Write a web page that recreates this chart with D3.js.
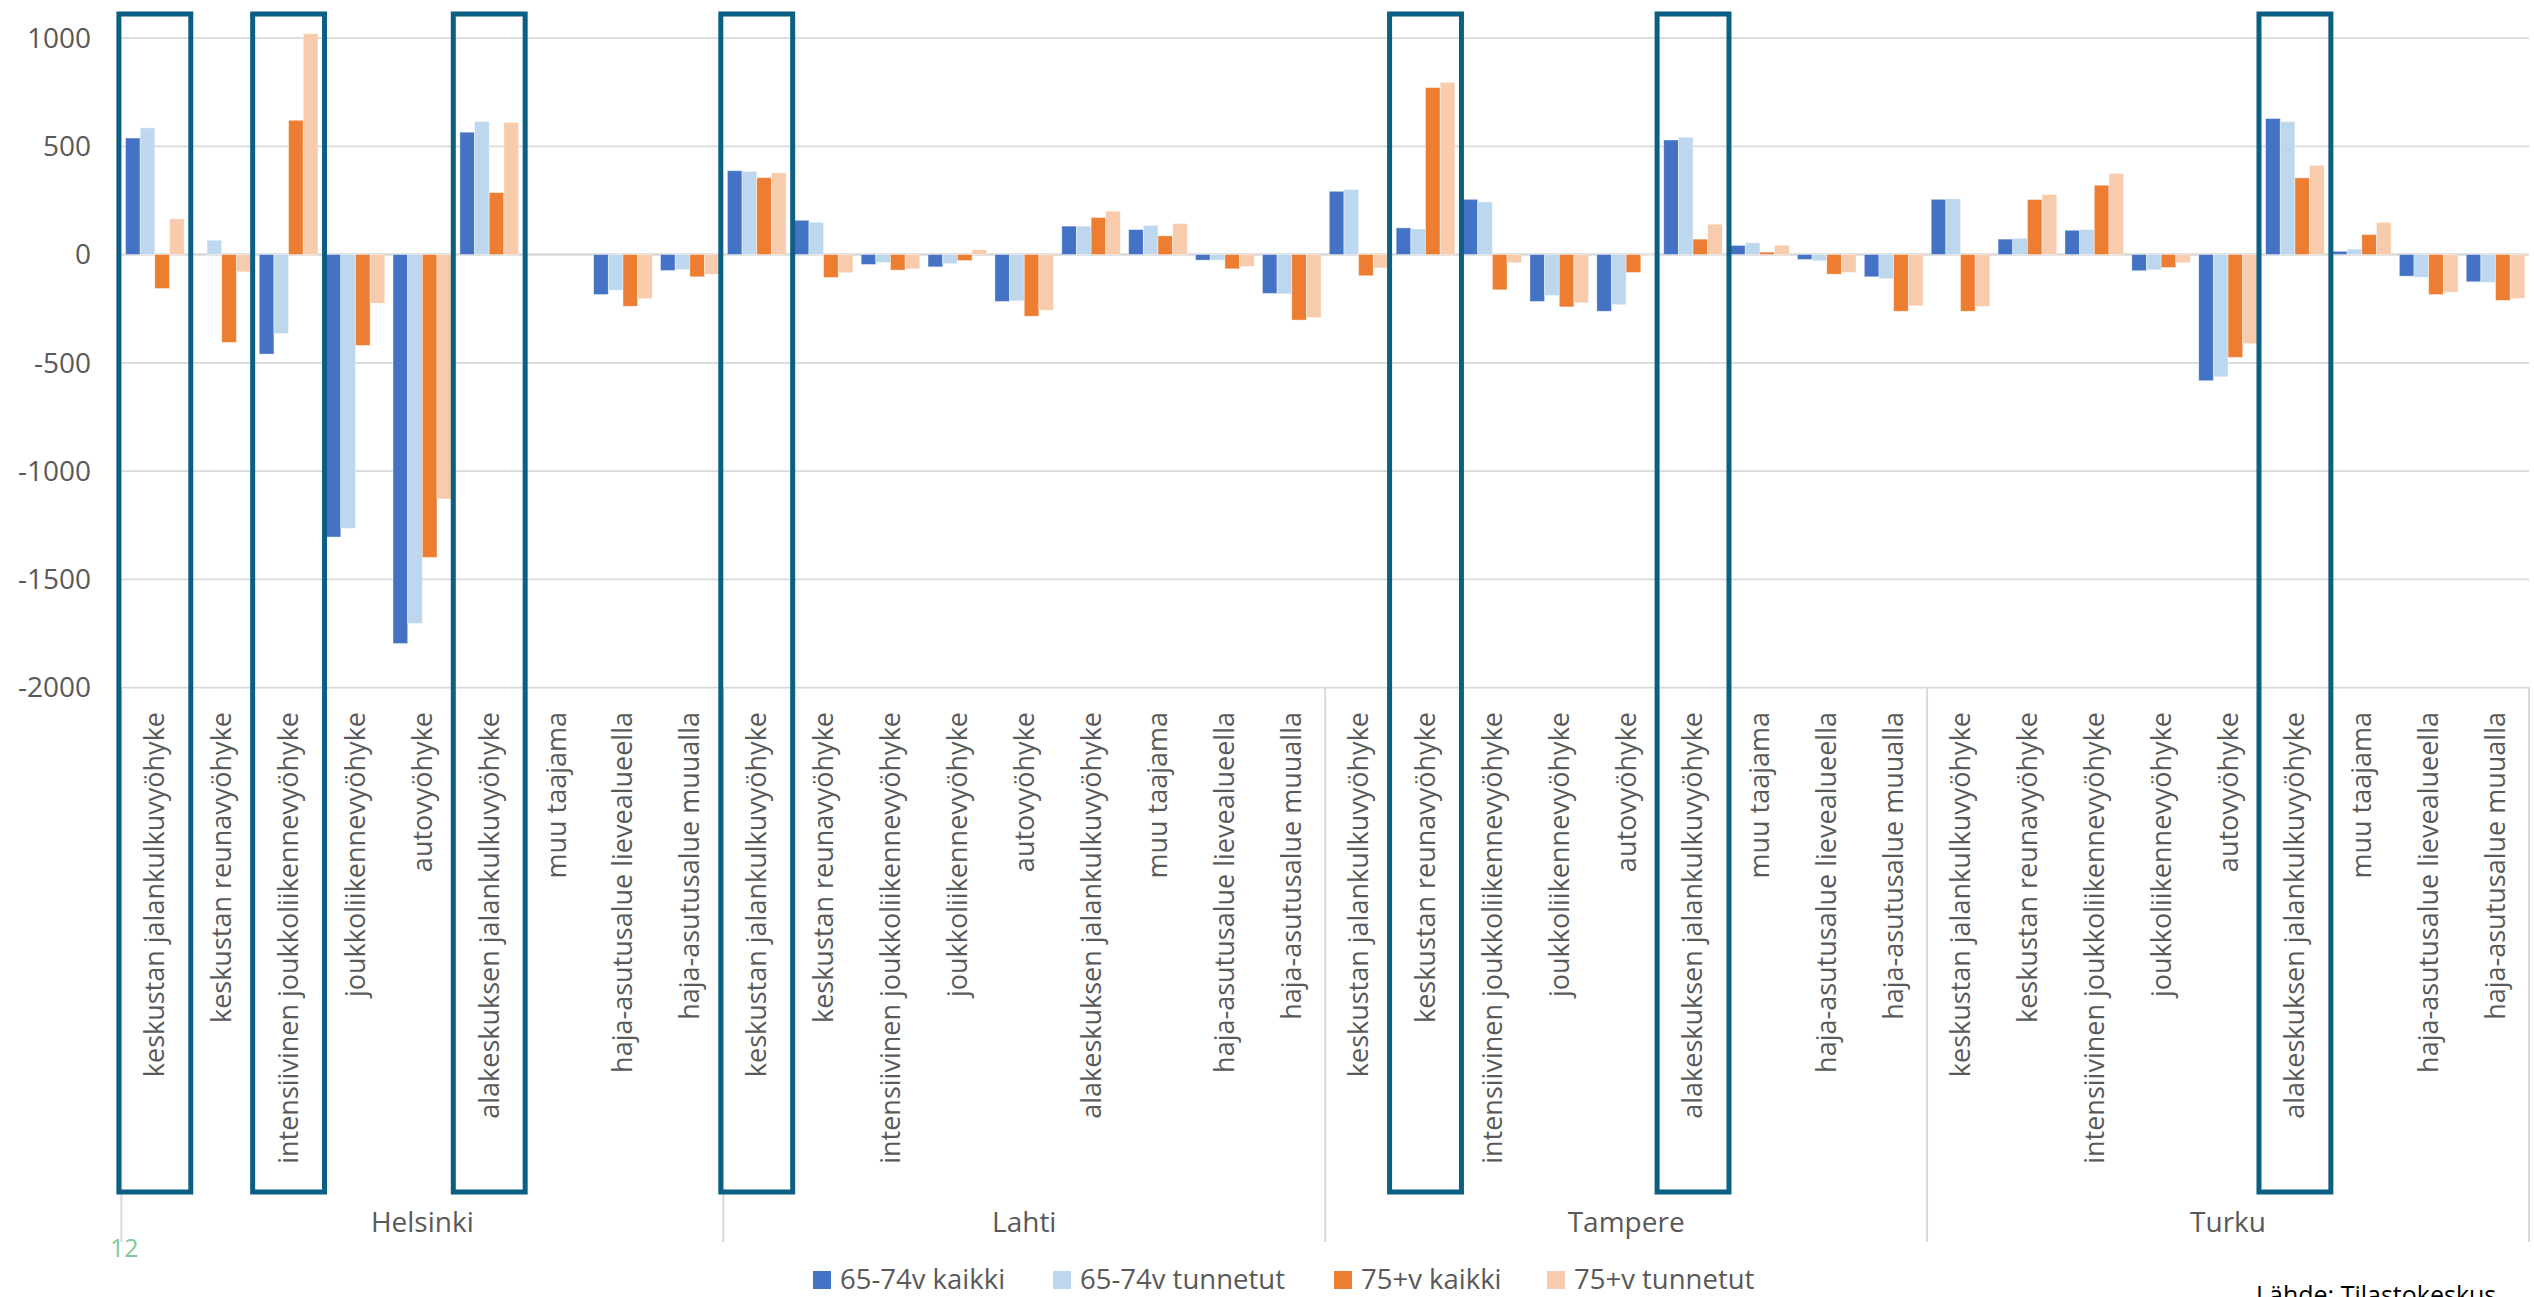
<!DOCTYPE html>
<html>
<head>
<meta charset="utf-8">
<script src="https://cdn.jsdelivr.net/npm/d3@7"></script>
<style>
  body { margin: 0; overflow: hidden; background: #fff; }
  svg { display: block; font-family: "Segoe UI", "Open Sans", sans-serif; }
</style>
</head>
<body>
<svg id="chart"></svg>
<script>
// cities and zone types (x axis is city > zone)
const cities = ['Helsinki', 'Lahti', 'Tampere', 'Turku'];
const zones = [
  'keskustan jalankulkuvyöhyke',
  'keskustan reunavyöhyke',
  'intensiivinen joukkoliikennevyöhyke',
  'joukkoliikennevyöhyke',
  'autovyöhyke',
  'alakeskuksen jalankulkuvyöhyke',
  'muu taajama',
  'haja-asutusalue lievealueella',
  'haja-asutusalue muualla'
];
const seriesNames = ['65-74v kaikki', '65-74v tunnetut', '75+v kaikki', '75+v tunnetut'];
const seriesColors = ['#4472c4', '#bdd7ee', '#ed7d31', '#f8cbad'];

// values, 9 zones per city in order Helsinki, Lahti, Tampere, Turku
const kaikki6574 = [
  538, 0, -460, -1305, -1797, 565, 0, -185, -74,
  387, 158, -46, -57, -217, 131, 115, -26, -180,
  292, 123, 255, -217, -262, 529, 42, -23, -103,
  255, 71, 112, -75, -583, 628, 15, -100, -126
];
const tunnetut6574 = [
  585, 66, -365, -1265, -1704, 614, 0, -165, -70,
  384, 149, -37, -42, -214, 131, 134, -26, -182,
  300, 118, 243, -189, -232, 542, 54, -29, -112,
  257, 75, 115, -71, -565, 614, 25, -105, -129
];
const kaikki75 = [
  -157, -406, 620, -420, -1399, 286, 0, -239, -103,
  355, -106, -72, -28, -285, 171, 86, -66, -303,
  -98, 771, -163, -242, -83, 71, 11, -91, -262,
  -262, 254, 320, -60, -475, 354, 92, -185, -212
];
const tunnetut75 = [
  165, -80, 1020, -225, -1129, 610, 0, -204, -91,
  377, -84, -66, 22, -258, 200, 143, -55, -291,
  -62, 795, -38, -223, -5, 140, 43, -83, -237,
  -240, 277, 374, -38, -412, 412, 148, -174, -203
];
const yTicks = [1000, 500, 0, -500, -1000, -1500, -2000];

// zones framed with a box
const highlights = [
  ['Helsinki', 'keskustan jalankulkuvyöhyke'],
  ['Helsinki', 'intensiivinen joukkoliikennevyöhyke'],
  ['Helsinki', 'alakeskuksen jalankulkuvyöhyke'],
  ['Lahti', 'keskustan jalankulkuvyöhyke'],
  ['Tampere', 'keskustan reunavyöhyke'],
  ['Tampere', 'alakeskuksen jalankulkuvyöhyke'],
  ['Turku', 'alakeskuksen jalankulkuvyöhyke']
];

const width = 2534, height = 1297;
const plotLeft = 121.4, plotRight = 2529, plotTop = 38, plotBottom = 687.5;
const textColor = '#595959', gridColor = '#d9d9d9';
const legendX = [813, 1053, 1334, 1547];

const svg = d3.select('#chart').attr('width', width).attr('height', height);

const xCity = d3.scaleBand().domain(cities).range([plotLeft, plotRight]);
const xZone = d3.scaleBand().domain(zones).range([0, xCity.bandwidth()]);
const xSeries = d3.scaleBand().domain(seriesNames).range([0, xZone.bandwidth()])
  .paddingInner(0).paddingOuter(0.28);
const y = d3.scaleLinear().domain([-2000, 1000]).range([plotBottom, plotTop]);

const allSeries = [kaikki6574, tunnetut6574, kaikki75, tunnetut75];
const rows = [];
cities.forEach((c, ci) => zones.forEach((z, zi) => {
  seriesNames.forEach((s, si) => {
    rows.push({ city: c, zone: z, series: s, value: allSeries[si][ci * zones.length + zi] });
  });
}));

// gridlines
svg.append('g')
  .selectAll('line')
  .data(yTicks)
  .join('line')
  .attr('x1', plotLeft).attr('x2', plotRight)
  .attr('y1', d => y(d)).attr('y2', d => y(d))
  .attr('stroke', gridColor)
  .attr('stroke-width', d => (d === 0 ? 2.5 : 1.75));

// y labels
svg.append('g')
  .selectAll('text')
  .data(yTicks)
  .join('text')
  .attr('x', 91)
  .attr('y', d => y(d))
  .attr('dy', '0.35em')
  .attr('text-anchor', 'end')
  .attr('font-size', 28)
  .attr('fill', textColor)
  .text(d => d);

// city separators below the plot
const seps = cities.map(c => xCity(c)).concat([plotRight]);
svg.append('g')
  .selectAll('line')
  .data(seps)
  .join('line')
  .attr('x1', d => d).attr('x2', d => d)
  .attr('y1', plotBottom).attr('y2', 1242)
  .attr('stroke', gridColor)
  .attr('stroke-width', 2);

// bars
svg.append('g')
  .selectAll('rect')
  .data(rows)
  .join('rect')
  .attr('x', d => xCity(d.city) + xZone(d.zone) + xSeries(d.series))
  .attr('width', xSeries.bandwidth())
  .attr('y', d => y(Math.max(0, d.value)))
  .attr('height', d => Math.abs(y(d.value) - y(0)))
  .attr('fill', d => seriesColors[seriesNames.indexOf(d.series)])
  .attr('stroke', '#fff')
  .attr('stroke-opacity', 0.5)
  .attr('stroke-width', 0.8);

// zone labels, rotated
const zoneLabels = [];
cities.forEach(c => zones.forEach(z => zoneLabels.push({ city: c, zone: z })));
svg.append('g')
  .selectAll('text')
  .data(zoneLabels)
  .join('text')
  .attr('transform', d => `translate(${xCity(d.city) + xZone(d.zone) + xZone.bandwidth() / 2},712) rotate(-90)`)
  .attr('dy', '0.35em')
  .attr('text-anchor', 'end')
  .attr('font-size', 27)
  .attr('fill', textColor)
  .text(d => d.zone);

// city labels
svg.append('g')
  .selectAll('text')
  .data(cities)
  .join('text')
  .attr('x', d => xCity(d) + xCity.bandwidth() / 2)
  .attr('y', 1232)
  .attr('text-anchor', 'middle')
  .attr('font-size', 28)
  .attr('fill', textColor)
  .text(d => d);

// highlight boxes
svg.append('g')
  .selectAll('rect')
  .data(highlights)
  .join('rect')
  .attr('x', d => xCity(d[0]) + xZone(d[1]) - 2.5)
  .attr('width', xZone.bandwidth() + 5)
  .attr('y', 14)
  .attr('height', 1178)
  .attr('fill', 'none')
  .attr('stroke', '#0a5f82')
  .attr('stroke-width', 5);

// legend
const legend = svg.append('g')
  .selectAll('g')
  .data(seriesNames)
  .join('g')
  .attr('transform', (d, i) => `translate(${legendX[i]},1271)`);
legend.append('rect')
  .attr('width', 18).attr('height', 18)
  .attr('fill', (d, i) => seriesColors[i]);
legend.append('text')
  .attr('x', 27).attr('y', 18)
  .attr('font-size', 27.5)
  .attr('fill', textColor)
  .text(d => d);

// page number and source
svg.append('text')
  .attr('x', 110).attr('y', 1257)
  .attr('font-size', 25)
  .attr('fill', '#82c99a')
  .text('12');

svg.append('text')
  .attr('x', 2256).attr('y', 1304)
  .attr('font-size', 25)
  .attr('fill', '#000')
  .text('Lähde: Tilastokeskus');
</script>
</body>
</html>
